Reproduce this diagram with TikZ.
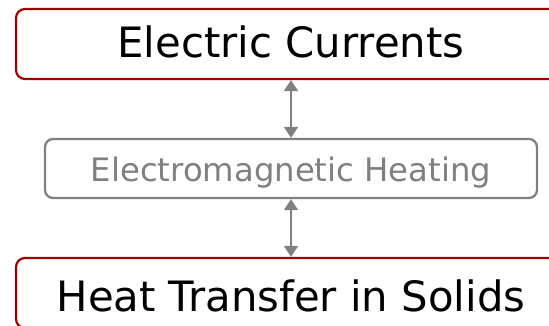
\documentclass[tikz,border=0pt]{standalone}
\usepackage{fontspec}
\setmainfont{DejaVu Sans}
\usetikzlibrary{arrows.meta}
\definecolor{boxred}{RGB}{160,0,0}
\definecolor{boxgray}{RGB}{128,128,128}
\tikzset{
  mainbox/.style={draw=boxred, line width=2.2pt, rounded corners=9pt, fill=white,
    minimum width=550pt, minimum height=70pt, inner sep=0pt,
    font=\fontsize{41.8}{48}\selectfont, text=black, text depth=0pt},
  subbox/.style={draw=boxgray, line width=2.3pt, rounded corners=8pt, fill=white,
    minimum width=492pt, minimum height=59pt, inner sep=0pt,
    font=\fontsize{32.3}{38}\selectfont, text=boxgray, text height=27pt, text depth=0pt},
  link/.style={draw=boxgray, line width=1.8pt, {Triangle[width=14pt,length=11pt]}-{Triangle[width=14pt,length=11pt]}}
}
\begin{document}
\begin{tikzpicture}[x=1pt,y=-1pt]
\useasboundingbox (0,0) rectangle (549,326);
\clip (0,0) rectangle (549,326);
\node[mainbox, text height=27pt] (ec) at (291,44) {Electric Currents};
\node[subbox] (emh) at (291,168.5) {Electromagnetic Heating};
\node[mainbox, text height=36pt] (ht) at (291,293) {Heat Transfer in Solids};
\draw[link] (ec.south) -- (emh.north);
\draw[link] (emh.south) -- (ht.north);
\end{tikzpicture}
\end{document}
